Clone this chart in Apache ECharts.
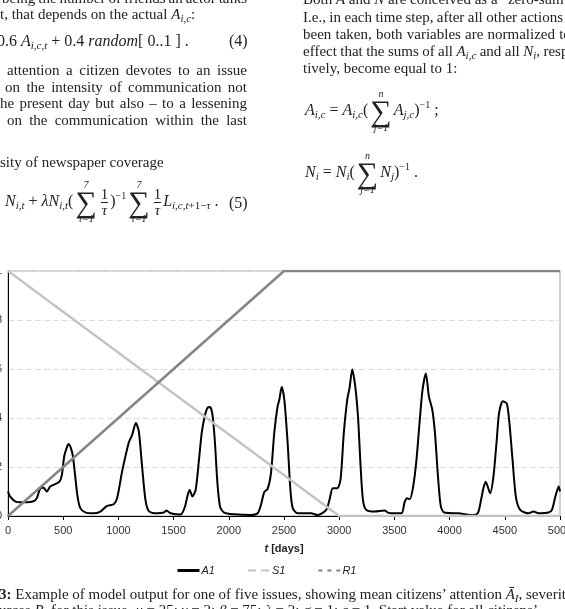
<!DOCTYPE html>
<html>
<head>
<meta charset="utf-8">
<title>Model output A1 S1 R1</title>
<style>
html, body {
	margin: 0;
	padding: 0;
	width: 565px;
	height: 609px;
	overflow: hidden;
	background: #fff;
}
#chart {
	position: absolute;
	left: 0;
	top: 0;
	width: 565px;
	height: 609px;
}
.txt {
	position: absolute;
	font-family: "Liberation Serif", "DejaVu Serif", serif;
	font-size: 15px;
	line-height: 16px;
	color: #222;
	white-space: nowrap;
}
.f { font-size: 16px; }
.txt sub { font-size: 11px; vertical-align: -3px; line-height: 0; }
.txt sup { font-size: 10px; vertical-align: 7px; line-height: 0; }
.op {
	display: inline-flex;
	flex-direction: column;
	align-items: center;
	vertical-align: middle;
	line-height: 1;
	margin: 0 2px;
}
.op .lim { font-size: 10px; font-style: italic; }
.op .sig { font-size: 30px; line-height: 24px; }
.fr {
	display: inline-flex;
	flex-direction: column;
	align-items: center;
	vertical-align: middle;
	line-height: 1;
	font-size: 15px;
	margin: 0 2px;
}
.fr .den { border-top: 1px solid #222; font-style: italic; padding: 0 1px; }
</style>
</head>
<body>
<div id="chart"></div>

<!-- left column -->
<div class="txt" data-w="245" style="left:2px; top:-10px;"><span class="m">being the number of friends an actor talks</span></div>
<div class="txt" style="left:0px; top:6px;">t, that depends on the actual <i>A</i><sub><i>i,c</i></sub>:</div>
<div class="txt f" style="left:-3px; top:33px;">0.6 <i>A</i><sub><i>i,c,t</i></sub> + 0.4 <i>random</i>[ 0..1 ] .</div>
<div class="txt f" style="left:229px; top:33px;">(4)</div>
<div class="txt" data-w="240" style="left:7px; top:62px;"><span class="m">attention a citizen devotes to an issue</span></div>
<div class="txt" data-w="242" style="left:5px; top:79px;"><span class="m">on the intensity of communication not</span></div>
<div class="txt" data-w="247" style="left:0px; top:95px;"><span class="m">he present day but also – to a lessening</span></div>
<div class="txt" data-w="240" style="left:7px; top:112px;"><span class="m">on the communication within the last</span></div>
<div class="txt" style="left:0px; top:154px;">sity of newspaper coverage</div>
<div class="txt f" style="left:5px; top:180px;"><i>N</i><sub><i>i,t</i></sub> + <i>λN</i><sub><i>i,t</i></sub>(<span class="op"><span class="lim">7</span><span class="sig">∑</span><span class="lim">τ=1</span></span><span class="fr"><span>1</span><span class="den">τ</span></span>)<sup>−1</sup><span class="op"><span class="lim">7</span><span class="sig">∑</span><span class="lim">τ=1</span></span><span class="fr"><span>1</span><span class="den">τ</span></span><i>L</i><sub><i>i,c,t</i>+1−<i>τ</i></sub> .</div>
<div class="txt f" style="left:229px; top:195px;">(5)</div>

<!-- right column -->
<div class="txt" style="left:303px; top:-9px;">Both <i>A</i> and <i>N</i> are conceived as a “zero-sum” game.</div>
<div class="txt" data-w="260" style="left:303px; top:9px;"><span class="m">I.e., in each time step, after all other actions</span> have</div>
<div class="txt" data-w="252" style="left:303px; top:26px;"><span class="m">been taken, both variables are normalized</span> to the</div>
<div class="txt" data-w="237" style="left:303px; top:43px;"><span class="m">effect that the sums of all <i>A</i><sub><i>i,c</i></sub> and all <i>N</i><sub><i>i</i></sub>,</span> respec-</div>
<div class="txt" style="left:303px; top:60px;">tively, become equal to 1:</div>
<div class="txt f" style="left:305px; top:89px;"><i>A</i><sub><i>i,c</i></sub> = <i>A</i><sub><i>i,c</i></sub>(<span class="op"><span class="lim">n</span><span class="sig">∑</span><span class="lim">j=1</span></span><i>A</i><sub><i>j,c</i></sub>)<sup>−1</sup> ;</div>
<div class="txt f" style="left:305px; top:151px;"><i>N</i><sub><i>i</i></sub> = <i>N</i><sub><i>i</i></sub>(<span class="op"><span class="lim">n</span><span class="sig">∑</span><span class="lim">j=1</span></span><i>N</i><sub><i>j</i></sub>)<sup>−1</sup> .</div>

<!-- caption -->
<div class="txt" style="left:-1px; top:586px;"><b>3:</b> Example of model output for one of five issues, showing mean citizens’ attention <i>Ā</i><sub><i>I</i></sub>, severity</div>
<div class="txt" style="left:-1px; top:602px;">urces <i>R</i><sub><i>I</i></sub> for this issue. <i>μ</i> = 25; <i>γ</i> = 2; <i>β</i> = 75; <i>λ</i> = 2; <i>σ</i> = 1; <i>ε</i> = 1. Start value for all citizens’</div>

<script src="https://cdn.jsdelivr.net/npm/echarts@6/dist/echarts.min.js"></script>
<script type="text/javascript">
// time axis in days
var xTicks = [0, 500, 1000, 1500, 2000, 2500, 3000, 3500, 4000, 4500, 5000];

// A1: mean citizens' attention
var a1Days = [0, 18, 64, 109, 170, 230, 260, 290, 321, 352, 382, 427, 466, 488, 509, 533, 548, 570, 588, 609,
	630, 655, 700, 776, 836, 897, 958, 988, 1033, 1094, 1124, 1158, 1185, 1215, 1245, 1276, 1352, 1412, 1436, 1473,
	1564, 1603, 1624, 1645, 1670, 1700, 1730, 1755, 1782, 1806, 1830, 1852, 1873, 1897, 1921, 1958, 2048, 2200, 2261, 2291,
	2321, 2352, 2382, 2412, 2442, 2458, 2479, 2503, 2533, 2558, 2579, 2624, 2745, 2806, 2882, 2912, 2942, 2982, 3012, 3042,
	3073, 3094, 3118, 3145, 3170, 3194, 3215, 3245, 3321, 3412, 3442, 3473, 3564, 3594, 3618, 3639, 3670, 3700, 3730, 3755,
	3785, 3812, 3843, 3867, 3897, 3921, 3952, 4079, 4200, 4255, 4285, 4306, 4327, 4367, 4397, 4427, 4448, 4482, 4518, 4539,
	4570, 4600, 4639, 4715, 4761, 4806, 4897, 4927, 4958, 4988, 5000];
var a1Values = [0.10, 0.08, 0.06, 0.056, 0.056, 0.06, 0.072, 0.11, 0.116, 0.10, 0.12, 0.13, 0.14, 0.168, 0.243, 0.28, 0.294, 0.277, 0.243, 0.161,
	0.079, 0.032, 0.015, 0.011, 0.018, 0.041, 0.048, 0.072, 0.18, 0.30, 0.33, 0.38, 0.345, 0.20, 0.066, 0.02, 0.011, 0.014, 0.022, 0.011,
	0.006, 0.038, 0.079, 0.107, 0.08, 0.107, 0.23, 0.34, 0.407, 0.441, 0.445, 0.414, 0.31, 0.134, 0.038, 0.014, 0.007, 0.004, 0.011, 0.045,
	0.097, 0.111, 0.175, 0.34, 0.448, 0.475, 0.527, 0.475, 0.298, 0.107, 0.032, 0.011, 0.011, 0.004, 0.025, 0.066, 0.113, 0.113, 0.148, 0.34,
	0.475, 0.523, 0.598, 0.53, 0.407, 0.202, 0.066, 0.025, 0.018, 0.022, 0.014, 0.011, 0.011, 0.059, 0.072, 0.068, 0.12, 0.23, 0.393, 0.516,
	0.582, 0.489, 0.434, 0.34, 0.148, 0.038, 0.014, 0.011, 0.004, 0.011, 0.066, 0.113, 0.14, 0.093, 0.161, 0.31, 0.42, 0.468, 0.459, 0.393,
	0.23, 0.079, 0.025, 0.011, 0.018, 0.011, 0.014, 0.025, 0.079, 0.12, 0.10];

// S1: severity, R1: resources
var s1Days = [0, 3000, 5000];
var s1Values = [1, 0, 0];
var r1Days = [0, 2500, 5000];
var r1Values = [0, 1, 1];

function pairs(xs, ys) {
	var out = [];
	for (var i = 0; i < xs.length; i++) {
		out.push([xs[i], ys[i]]);
	}
	return out;
}

// fit a text line to the given width like justified print text:
// stretch/shrink the spaces, and if they'd get too thin, squeeze the letters a little
var lines = document.querySelectorAll('[data-w]');
for (var k = 0; k < lines.length; k++) {
	var el = lines[k];
	var span = el.querySelector('.m');
	var target = +el.getAttribute('data-w');
	var natural = span.getBoundingClientRect().width;
	var txt = span.textContent;
	var spaces = (txt.match(/ /g) || []).length;
	var ws = spaces > 0 ? (target - natural) / spaces : 0;
	if (ws < -1) {
		ws = -1;
		el.style.wordSpacing = ws + 'px';
		var w2 = span.getBoundingClientRect().width;
		el.style.letterSpacing = ((target - w2) / txt.length) + 'px';
	} else {
		el.style.wordSpacing = ws + 'px';
	}
}

var myChart = echarts.init(document.getElementById('chart'));

var option = {
	animation: false,
	grid: {
		left: 8,
		right: 5,
		top: 271,
		bottom: 93,
		outerBoundsMode: 'none',
		containLabel: false,
		show: true,
		borderColor: '#a0a0a0',
		borderWidth: 1
	},
	legend: {
		left: 171,
		top: 560,
		itemWidth: 22,
		itemHeight: 10,
		itemGap: 32,
		itemStyle: { opacity: 0 },
		textStyle: {
			fontFamily: 'Liberation Sans, Arial, sans-serif',
			fontSize: 11,
			fontStyle: 'italic',
			color: '#222',
			padding: [0, 0, 0, -3]
		},
		data: [
			{ name: 'A1', lineStyle: { color: '#000', width: 3, type: 'solid' } },
			{ name: 'S1', lineStyle: { color: '#c4c4c4', width: 2, type: [8, 5] } },
			{ name: 'R1', lineStyle: { color: '#808080', width: 2, type: [4, 5] } }
		]
	},
	xAxis: {
		type: 'value',
		min: 0,
		max: 5000,
		interval: 500,
		name: '{i|t} [days]',
		nameLocation: 'middle',
		nameGap: 27,
		nameTextStyle: {
			fontFamily: 'Liberation Sans, Arial, sans-serif',
			fontSize: 11,
			fontWeight: 'bold',
			color: '#222',
			rich: {
				i: { fontFamily: 'Liberation Sans, Arial, sans-serif', fontSize: 11, fontWeight: 'bold', fontStyle: 'italic', color: '#222' }
			}
		},
		axisLine: { lineStyle: { color: '#000', width: 1 } },
		axisTick: { show: true, length: 4, lineStyle: { color: '#000' } },
		axisLabel: {
			margin: 9,
			fontFamily: 'Liberation Sans, Arial, sans-serif',
			fontSize: 11,
			color: '#333',
			formatter: function (v) {
				return xTicks.indexOf(v) >= 0 ? String(v) : '';
			}
		},
		splitLine: { show: false }
	},
	yAxis: {
		type: 'value',
		min: 0,
		max: 1,
		interval: 0.2,
		axisLine: { show: true, lineStyle: { color: '#000', width: 1 } },
		axisTick: { show: false },
		axisLabel: {
			margin: 6,
			fontFamily: 'Liberation Sans, Arial, sans-serif',
			fontSize: 11,
			color: '#333'
		},
		splitLine: {
			show: true,
			lineStyle: { color: '#dcdcdc', type: [6, 3], width: 1 }
		}
	},
	series: [
		{
			name: 'A1',
			type: 'line',
			data: pairs(a1Days, a1Values),
			symbol: 'none',
			smooth: 0.25,
			lineStyle: { color: '#000', width: 2 },
			itemStyle: { color: '#000' }
		},
		{
			name: 'S1',
			type: 'line',
			data: pairs(s1Days, s1Values),
			symbol: 'none',
			lineStyle: { color: '#c4c4c4', width: 2.5 },
			itemStyle: { color: '#c4c4c4' }
		},
		{
			name: 'R1',
			type: 'line',
			data: pairs(r1Days, r1Values),
			symbol: 'none',
			lineStyle: { color: '#858585', width: 2.5 },
			itemStyle: { color: '#858585' }
		}
	]
};

myChart.setOption(option);
</script>
</body>
</html>
